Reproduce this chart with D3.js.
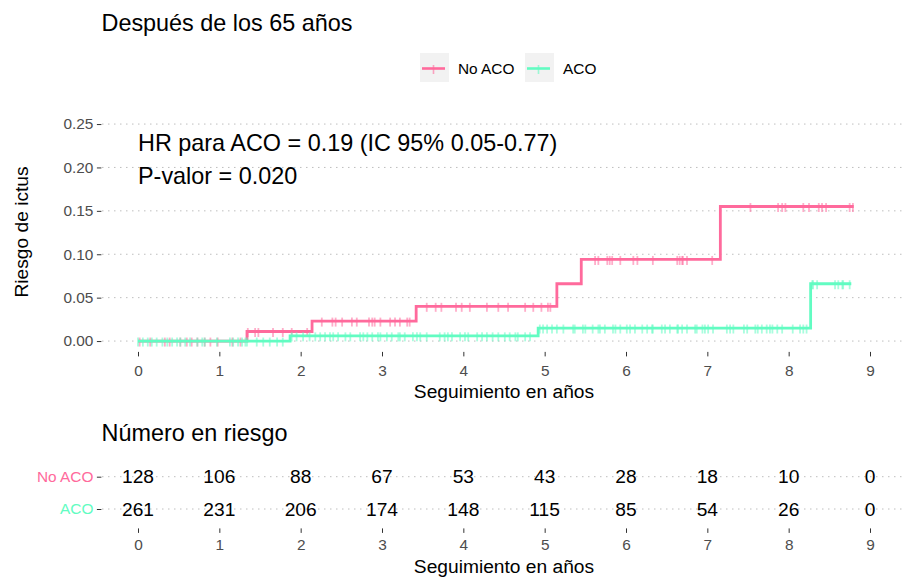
<!DOCTYPE html>
<html>
<head>
<meta charset="utf-8">
<script src="https://cdn.jsdelivr.net/npm/d3@7/dist/d3.min.js"></script>
<style>
  html, body { margin: 0; padding: 0; background: #fff; }
  svg text { font-family: "Liberation Sans", Arial, Helvetica, sans-serif; }
</style>
</head>
<body>
<svg id="chart" width="902" height="579"></svg>
<script>
// ---------------- DATA ----------------
const groups = ["No ACO", "ACO"];
const groupColors = ["#FF6A9C", "#62FCC2"];
const timeTicks = [0, 1, 2, 3, 4, 5, 6, 7, 8, 9];
const riskTicks = [0, 0.05, 0.10, 0.15, 0.20, 0.25];

// cumulative incidence step curves (time of step, value after step)
const noacoStepTimes = [0, 1.34, 2.14, 3.42, 5.15, 5.45, 7.16, 8.80];
const noacoStepRisk  = [0, 0.011, 0.023, 0.040, 0.066, 0.094, 0.155, 0.155];
const acoStepTimes   = [0, 1.87, 4.92, 8.27, 8.77];
const acoStepRisk    = [0, 0.006, 0.015, 0.066, 0.066];

// censoring times
const noacoCensor = [0.02, 0.15, 0.33, 0.39, 0.52, 0.60, 0.66, 0.73, 0.82, 0.89, 0.98, 1.16, 1.26,
  1.35, 1.44, 1.48, 1.66, 1.78, 1.89, 2.08,
  2.26, 2.39, 2.43, 2.51, 2.63, 2.69, 2.84, 2.88, 2.91, 2.98, 3.10, 3.16, 3.22, 3.31, 3.34,
  3.55, 3.66, 3.73, 3.91, 3.98, 4.08, 4.29, 4.43, 4.55, 4.76, 4.86, 4.96, 5.04, 5.07,
  5.62, 5.66, 5.77, 5.80, 5.83, 5.93, 6.09, 6.14, 6.33, 6.63, 6.66, 6.69, 6.70, 6.75, 7.06,
  7.53, 7.87, 7.92, 7.96, 8.18, 8.25, 8.37, 8.41, 8.46, 8.75, 8.79];
const acoCensor = [0.00, 0.06, 0.12, 0.17, 0.23, 0.30, 0.36, 0.42, 0.48, 0.52, 0.58, 0.64, 0.73, 0.79,
  0.82, 0.97, 1.13, 1.17, 1.23, 1.28, 1.32, 1.34, 1.46, 1.54, 1.62, 1.71, 1.78,
  1.89, 1.95, 2.03, 2.11, 2.18, 2.24, 2.30, 2.36, 2.40, 2.46, 2.55, 2.61, 2.73, 2.77, 2.82, 2.88,
  2.95, 2.98, 3.06, 3.12, 3.20, 3.22, 3.28, 3.38, 3.43, 3.47, 3.55, 3.71, 3.77, 3.81, 3.86, 3.96,
  4.02, 4.06, 4.17, 4.23, 4.29, 4.36, 4.43, 4.51, 4.57, 4.64, 4.67, 4.76, 4.82,
  4.94, 4.98, 5.03, 5.09, 5.15, 5.23, 5.35, 5.37, 5.47, 5.50, 5.59, 5.66, 5.68, 5.74, 5.84, 5.87,
  5.93, 6.01, 6.05, 6.11, 6.20, 6.26, 6.32, 6.33, 6.44, 6.48, 6.54, 6.63, 6.64, 6.69, 6.75, 6.85,
  6.87, 6.94, 6.97, 7.01, 7.07, 7.24, 7.28, 7.32, 7.45, 7.49, 7.59, 7.62, 7.67, 7.73, 7.77, 7.80,
  7.86, 7.92, 8.05, 8.14, 8.18, 8.22,
  8.29, 8.30, 8.35, 8.57, 8.61, 8.66, 8.67, 8.75];

// number at risk
const noacoAtRisk = [128, 106, 88, 67, 53, 43, 28, 18, 10, 0];
const acoAtRisk   = [261, 231, 206, 174, 148, 115, 85, 54, 26, 0];

const titleText = "Después de los 65 años";
const annotLines = ["HR para ACO = 0.19 (IC 95% 0.05-0.77)", "P-valor = 0.020"];
const yTitle = "Riesgo de ictus";
const xTitle = "Seguimiento en años";
const tableTitle = "Número en riesgo";

// ---------------- DRAW ----------------
const svg = d3.select("#chart");
const FONT_BASE = 19.2;
const FONT_BIG = 23.4;

const x = d3.scaleLinear().domain([-0.45, 9.45]).range([101.4, 906.6]);
const y = d3.scaleLinear().domain([-0.0125, 0.2625]).range([351.9, 113.2]);

const series = [
  { name: groups[0], color: groupColors[0], t: noacoStepTimes, r: noacoStepRisk, c: noacoCensor, n: noacoAtRisk },
  { name: groups[1], color: groupColors[1], t: acoStepTimes, r: acoStepRisk, c: acoCensor, n: acoAtRisk }
];

// title
svg.append("text").attr("x", 101.5).attr("y", 30.5)
  .attr("font-size", FONT_BIG).attr("fill", "#000").text(titleText);

// legend
const legendItems = [
  { x: 420, tx: 458 },
  { x: 525, tx: 563 }
];
series.forEach((s, i) => {
  const g = svg.append("g");
  const lx = legendItems[i].x;
  g.append("rect").attr("x", lx).attr("y", 53).attr("width", 29).attr("height", 29).attr("fill", "#F2F2F2");
  g.append("line").attr("x1", lx + 2).attr("x2", lx + 25).attr("y1", 68.5).attr("y2", 68.5)
    .attr("stroke", s.color).attr("stroke-width", 2.6);
  g.append("line").attr("x1", lx + 13.5).attr("x2", lx + 13.5).attr("y1", 65).attr("y2", 74)
    .attr("stroke", s.color).attr("stroke-width", 1.6).attr("stroke-opacity", 0.6);
  g.append("text").attr("x", legendItems[i].tx).attr("y", 73.5)
    .attr("font-size", 15.4).attr("fill", "#000").text(s.name);
});

// grid
svg.append("g").selectAll("line").data(riskTicks).join("line")
  .attr("x1", 102).attr("x2", 902)
  .attr("y1", d => y(d)).attr("y2", d => y(d))
  .attr("stroke", "#BEBEBE").attr("stroke-width", 1).attr("stroke-dasharray", "1.5,4.5");

// y axis
const yAxis = svg.append("g").attr("transform", "translate(101.4,0)")
  .call(d3.axisLeft(y).tickValues(riskTicks).tickFormat(d3.format(".2f")).tickSize(4.5).tickPadding(3.5));
yAxis.select(".domain").remove();
yAxis.selectAll(".tick line").attr("stroke", "#333");
yAxis.selectAll(".tick text").attr("font-size", 15.4).attr("fill", "#4D4D4D")
  .attr("font-family", "Liberation Sans, Arial, sans-serif");

// x axis
const xAxis = svg.append("g").attr("transform", "translate(0,351.9)")
  .call(d3.axisBottom(x).tickValues(timeTicks).tickFormat(d3.format("d")).tickSize(4.5).tickPadding(8.5));
xAxis.select(".domain").remove();
xAxis.selectAll(".tick line").attr("stroke", "#333");
xAxis.selectAll(".tick text").attr("font-size", 15.4).attr("fill", "#4D4D4D")
  .attr("font-family", "Liberation Sans, Arial, sans-serif");

// axis titles
svg.append("text").attr("x", 504).attr("y", 398).attr("text-anchor", "middle")
  .attr("font-size", FONT_BASE).attr("fill", "#000").text(xTitle);
svg.append("text").attr("transform", "translate(28,232) rotate(-90)").attr("text-anchor", "middle")
  .attr("font-size", FONT_BASE).attr("fill", "#000").text(yTitle);

// curves
function riskAt(s, t) {
  let v = s.r[0];
  for (let k = 0; k < s.t.length; k++) { if (s.t[k] <= t) v = s.r[k]; }
  return v;
}
const line = d3.line().x(d => x(d[0])).y(d => y(d[1])).curve(d3.curveStepAfter);
series.forEach(s => {
  const pts = s.t.map((t, k) => [t, s.r[k]]);
  svg.append("path").datum(pts).attr("d", line)
    .attr("fill", "none").attr("stroke", s.color).attr("stroke-width", 2.8);
  svg.append("g").selectAll("line").data(s.c).join("line")
    .attr("x1", d => x(d)).attr("x2", d => x(d))
    .attr("y1", d => y(riskAt(s, d)) - 3.5).attr("y2", d => y(riskAt(s, d)) + 5.5)
    .attr("stroke", s.color).attr("stroke-width", 1.8).attr("stroke-opacity", 0.55);
});

// annotation
annotLines.forEach((txt, i) => {
  svg.append("text").attr("x", 138).attr("y", 151 + i * 33)
    .attr("font-size", FONT_BIG).attr("fill", "#000").text(txt);
});

// ---------------- RISK TABLE ----------------
svg.append("text").attr("x", 101.5).attr("y", 441)
  .attr("font-size", FONT_BIG).attr("fill", "#000").text(tableTitle);

const yr = d3.scalePoint().domain(groups).range([476.7, 509]);

svg.append("g").selectAll("line").data(groups).join("line")
  .attr("x1", 102).attr("x2", 902)
  .attr("y1", d => yr(d)).attr("y2", d => yr(d))
  .attr("stroke", "#BEBEBE").attr("stroke-width", 1).attr("stroke-dasharray", "1.5,4.5");

const yrAxis = svg.append("g").attr("transform", "translate(101.4,0)")
  .call(d3.axisLeft(yr).tickSize(4.5).tickPadding(3.5));
yrAxis.select(".domain").remove();
yrAxis.selectAll(".tick line").attr("stroke", "#333");
yrAxis.selectAll(".tick text").attr("font-size", 15.4)
  .attr("font-family", "Liberation Sans, Arial, sans-serif")
  .attr("fill", d => groupColors[groups.indexOf(d)]);

series.forEach(s => {
  svg.append("g").selectAll("text").data(s.n).join("text")
    .attr("x", (d, k) => x(timeTicks[k])).attr("y", yr(s.name))
    .attr("dy", "0.35em").attr("text-anchor", "middle")
    .attr("font-size", 19.2).attr("fill", "#000").text(d => d);
});

const xrAxis = svg.append("g").attr("transform", "translate(0,528.4)")
  .call(d3.axisBottom(x).tickValues(timeTicks).tickFormat(d3.format("d")).tickSize(4.5).tickPadding(6));
xrAxis.select(".domain").remove();
xrAxis.selectAll(".tick line").attr("stroke", "#333");
xrAxis.selectAll(".tick text").attr("font-size", 15.4).attr("fill", "#4D4D4D")
  .attr("font-family", "Liberation Sans, Arial, sans-serif");

svg.append("text").attr("x", 504).attr("y", 573).attr("text-anchor", "middle")
  .attr("font-size", FONT_BASE).attr("fill", "#000").text(xTitle);
</script>
</body>
</html>
